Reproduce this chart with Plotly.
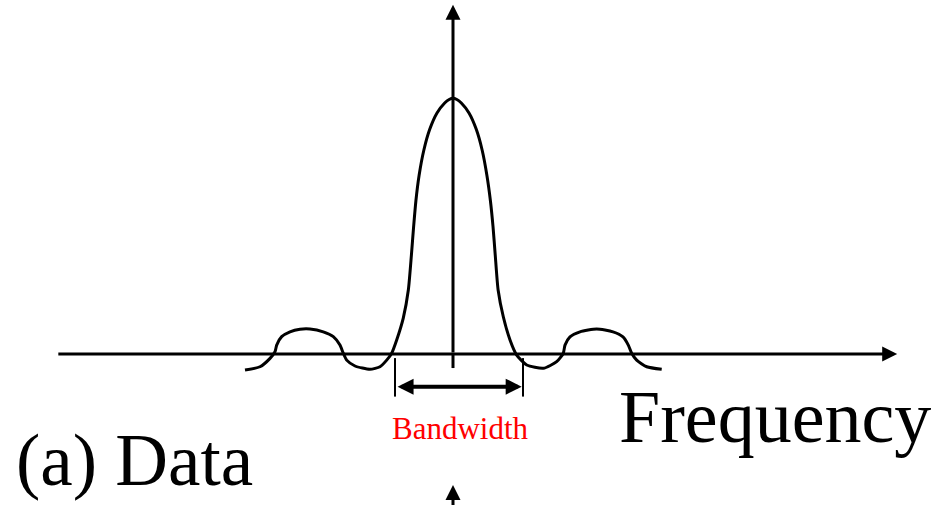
import plotly.graph_objects as go

# Spectrum curve (frequency in units of half-bandwidth, amplitude relative to peak)
freq = [-3.250, -3.016, -2.859, -2.781, -2.755, -2.677, -2.547, -2.391, -2.234, -2.027,
        -1.870, -1.766, -1.714, -1.661, -1.531, -1.297, -1.141, -1.036, -0.958, -0.880,
        -0.777, -0.698, -0.650, -0.615, -0.580, -0.530, -0.455, -0.365, -0.250, -0.130,
        -0.060, 0.0, 0.060,
        0.130, 0.250, 0.365, 0.455, 0.530, 0.585, 0.625, 0.660, 0.705, 0.786,
        0.891, 0.995, 1.152, 1.411, 1.620, 1.723, 1.750, 1.828,
        1.984, 2.245, 2.500, 2.656, 2.739, 2.792, 2.870, 3.027, 3.261]
amp = [-0.063, -0.050, -0.017, 0.009, 0.035, 0.068, 0.087, 0.097, 0.098, 0.087,
       0.068, 0.035, 0.003, -0.024, -0.047, -0.060, -0.050, -0.024, 0.003, 0.055,
       0.141, 0.251, 0.388, 0.500, 0.600, 0.700, 0.800, 0.880, 0.945, 0.984,
       0.998, 1.003, 0.998,
       0.984, 0.945, 0.880, 0.800, 0.700, 0.600, 0.500, 0.388, 0.251, 0.146,
       0.055, -0.004, -0.043, -0.056, -0.030, 0.003, 0.035, 0.067,
       0.087, 0.098, 0.087, 0.067, 0.035, 0.003, -0.024, -0.050, -0.060]

# Axis extents
freq_axis = [-6.19, 6.94]
amp_axis = [-0.055, 1.369]
lower_axis_tip = -0.514

# Bandwidth markers
bw_edges = [-0.906, 1.094]
bw_marker_amp = [-0.016, -0.167]
bw_arrow = [-0.89, 1.073]
bw_arrow_amp = -0.128

labels = {"freq": "Frequency", "panel": "(a) Data", "bw": "Bandwidth"}

X_RANGE = [-7.078, 7.578]
Y_RANGE = [-0.592, 1.388]

fig = go.Figure()

fig.add_trace(go.Scatter(x=freq, y=amp, mode="lines",
                         line=dict(color="black", width=3, shape="spline", smoothing=0.6),
                         hoverinfo="skip", showlegend=False))

# vertical axis line lower stub (below horizontal axis)
fig.add_trace(go.Scatter(x=[0, 0], y=[amp_axis[0], 0], mode="lines",
                         line=dict(color="black", width=3), hoverinfo="skip", showlegend=False))

# bandwidth marker lines
for e in bw_edges:
    fig.add_trace(go.Scatter(x=[e, e], y=bw_marker_amp, mode="lines",
                             line=dict(color="black", width=2), hoverinfo="skip", showlegend=False))

ann = []
# horizontal axis arrow
ann.append(dict(x=freq_axis[1], y=0, ax=freq_axis[0], ay=0, xref="x", yref="y",
                axref="x", ayref="y", text="", showarrow=True, arrowhead=2,
                arrowwidth=3, arrowsize=1, arrowcolor="black"))
# vertical axis arrow
ann.append(dict(x=0, y=amp_axis[1], ax=0, ay=0, xref="x", yref="y",
                axref="x", ayref="y", text="", showarrow=True, arrowhead=2,
                arrowwidth=3, arrowsize=1, arrowcolor="black"))
# lower clipped arrow
ann.append(dict(x=0, y=lower_axis_tip, ax=0, ay=-0.75, xref="x", yref="y",
                axref="x", ayref="y", text="", showarrow=True, arrowhead=2,
                arrowwidth=3, arrowsize=1, arrowcolor="black"))
# bandwidth double arrow
ann.append(dict(x=bw_arrow[1], y=bw_arrow_amp, ax=bw_arrow[0], ay=bw_arrow_amp,
                xref="x", yref="y", axref="x", ayref="y", text="", showarrow=True,
                arrowhead=2, startarrowhead=2, arrowside="end+start",
                arrowwidth=4, arrowsize=0.8, startarrowsize=0.8, arrowcolor="black"))

W, H = 938, 505
ann.append(dict(x=617 / W, y=1 - 417 / H, xref="paper", yref="paper", text=labels["freq"],
                showarrow=False, xanchor="left", yanchor="middle",
                font=dict(family="Liberation Serif", size=74, color="black")))
ann.append(dict(x=14 / W, y=1 - 460 / H, xref="paper", yref="paper", text=labels["panel"],
                showarrow=False, xanchor="left", yanchor="middle",
                font=dict(family="Liberation Serif", size=73, color="black")))
ann.append(dict(x=460.5 / W, y=1 - 428 / H, xref="paper", yref="paper", text=labels["bw"],
                showarrow=False, xanchor="center", yanchor="middle",
                font=dict(family="Liberation Serif", size=31, color="#ff0000")))

fig.update_layout(width=W, height=H, margin=dict(l=0, r=0, t=0, b=0),
                  paper_bgcolor="white", plot_bgcolor="white",
                  xaxis=dict(range=X_RANGE, visible=False, fixedrange=True),
                  yaxis=dict(range=Y_RANGE, visible=False, fixedrange=True),
                  annotations=ann, showlegend=False)

fig.write_html("out.html", config={"displayModeBar": False},
               post_script="document.body.style.margin='0';document.body.style.overflow='hidden';")
